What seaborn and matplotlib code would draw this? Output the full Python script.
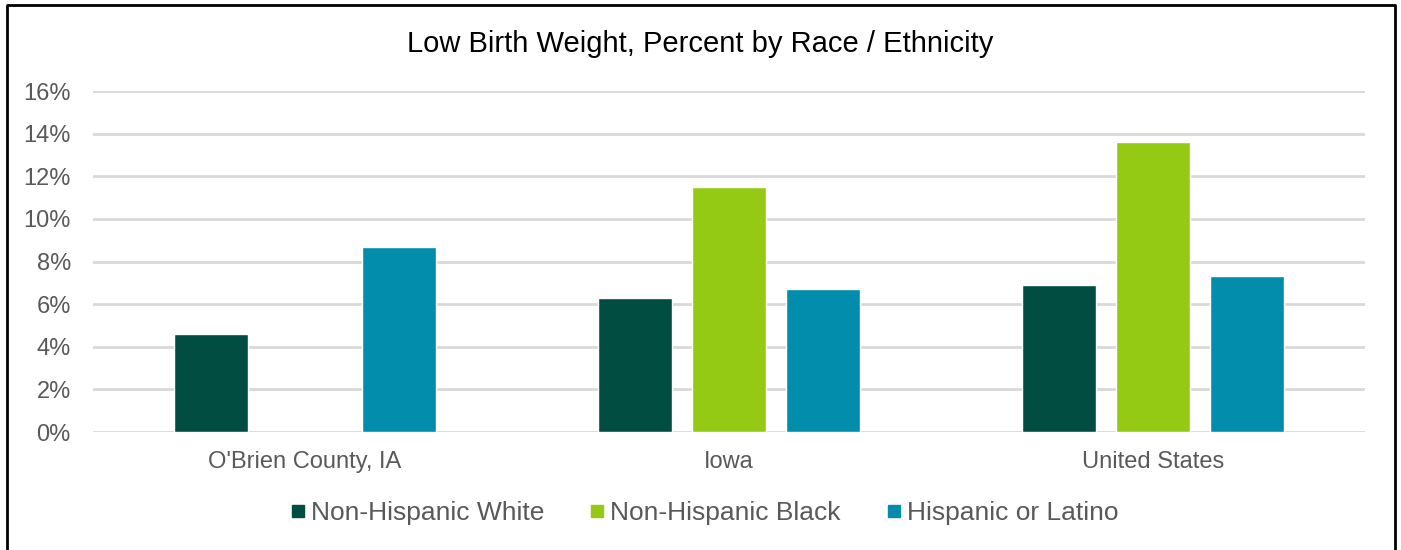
import matplotlib.pyplot as plt
import matplotlib.lines as mlines
import numpy as np
import pandas as pd
import seaborn as sns

# Data (percent)
regions = ["O'Brien County, IA", 'Iowa', 'United States']
groups = ['Non-Hispanic White', 'Non-Hispanic Black', 'Hispanic or Latino']
white = [4.6, 6.3, 6.9]
black = [np.nan, 11.5, 13.6]
hispanic = [8.7, 6.7, 7.3]
colors = ['#014D42', '#94C914', '#018DAB']
yticks = [0, 2, 4, 6, 8, 10, 12, 14, 16]

df = pd.DataFrame({
    'region': regions * 3,
    'group': [g for g in groups for _ in regions],
    'value': white + black + hispanic,
})

sns.set_style('white')
plt.rcParams['font.family'] = ['Liberation Sans', 'DejaVu Sans']
text_color = '#595959'

fig = plt.figure(figsize=(14.01, 5.5), dpi=100)
ax = fig.add_axes([0.0664, 0.2145, 0.9079, 0.62])

sns.barplot(data=df, x='region', y='value', hue='group', order=regions,
            hue_order=groups, palette=colors, width=0.665, gap=0.21,
            saturation=1, ax=ax, legend=False)

ax.set_xlim(-0.5, 2.5)
ax.set_ylim(0, 16)
ax.set_yticks(yticks)
ax.set_yticklabels([f'{t}%' for t in yticks])
ax.grid(axis='y', color='#D9D9D9', linewidth=2)
ax.set_axisbelow(True)
for s in ax.spines.values():
    s.set_visible(False)
ax.tick_params(axis='y', length=0, pad=16, labelsize=17, labelcolor=text_color)
ax.tick_params(axis='x', length=0, pad=14, labelsize=17, labelcolor=text_color)
ax.set_xlabel('')
ax.set_ylabel('')

fig.text(0.5, 0.92, 'Low Birth Weight, Percent by Race / Ethnicity',
         ha='center', va='center', fontsize=21, color='black')

handles = [mlines.Line2D([], [], linestyle='none', marker='s', markersize=9,
                         markerfacecolor=c, markeredgecolor=c) for c in colors]
fig.legend(handles, groups, loc='center', bbox_to_anchor=(0.503, 0.067), ncol=3,
           frameon=False, fontsize=19, labelcolor=text_color, handlelength=0.5,
           handletextpad=0.25, columnspacing=1.75)

# outer frame (left, top, right)
x0, x1, y1 = 6.5 / 1401, 1394.5 / 1401, 1 - 4.5 / 550
fig.add_artist(mlines.Line2D([x0, x0, x1, x1], [0, y1, y1, 0],
                             transform=fig.transFigure, color='black', linewidth=2))

fig.savefig('out.png', dpi=100)
